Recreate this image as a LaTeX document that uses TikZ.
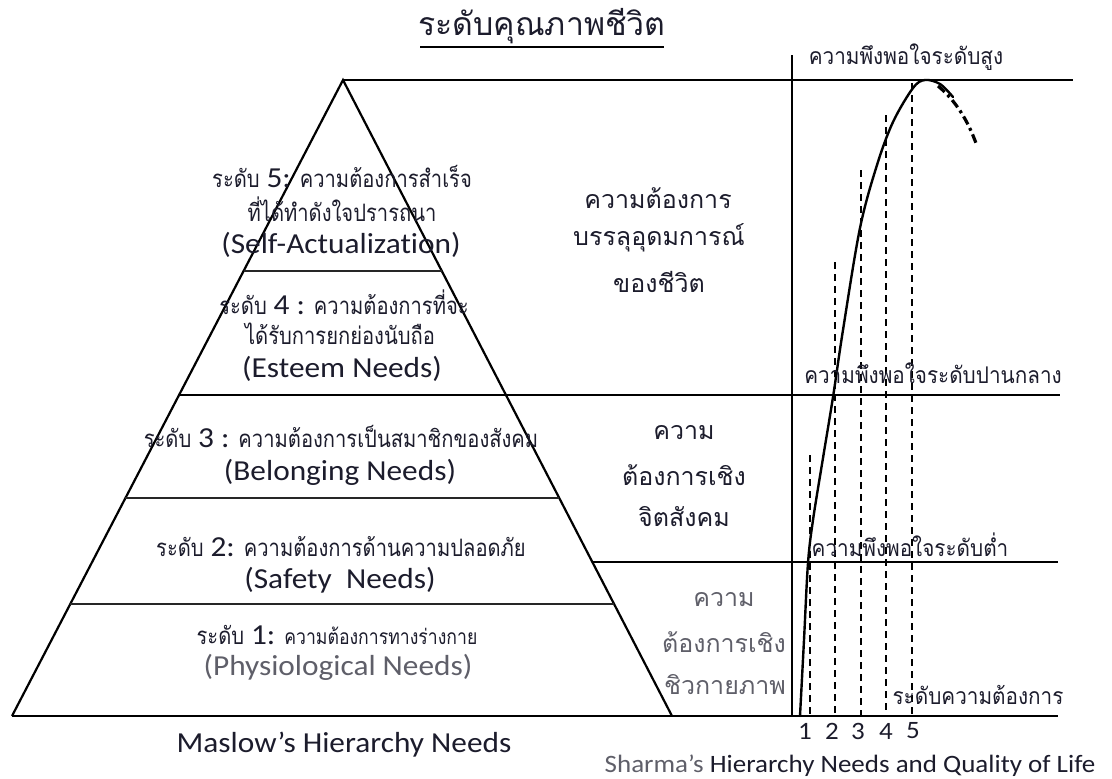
\documentclass[tikz,border=0pt]{standalone}
\usepackage{fontspec}
\newfontfamily\thai[Script=Thai]{Loma}
\newfontfamily\thaic[Script=Thai,FakeStretch=0.84]{Loma}
\newfontfamily\thair[Script=Thai,FakeStretch=0.9]{Loma}
\newfontfamily\lat[FakeStretch=1.08,Ligatures=NoCommon]{Carlito}
\definecolor{ink}{RGB}{28,28,44}
\definecolor{grayink}{RGB}{95,95,105}
\begin{document}
\begin{tikzpicture}[x=1pt,y=-1pt,
  txt/.style={inner sep=0pt,text=ink,anchor=center},
  thaiL/.style={txt,font=\thaic\fontsize{24}{26}\selectfont},
  thaiM/.style={txt,font=\thai\fontsize{25}{28}\selectfont},
  thaiS/.style={txt,font=\thair\fontsize{23}{25}\selectfont},
  latL/.style={txt,font=\lat\fontsize{29}{31}\selectfont},
  latS/.style={txt,font=\lat\fontsize{25}{27}\selectfont},
  heavy/.style={line width=2.2pt,draw=black},
  level/.style={line width=1.5pt,draw=black!85},
  dashv/.style={line width=1.2pt,draw=black,dash pattern=on 7pt off 5pt},
  curve/.style={line width=2.4pt,draw=black,line cap=round}]
\useasboundingbox (0,0) rectangle (1112,779);
% title
\node[txt,font=\thai\fontsize{32}{34}\selectfont] (title) at (542,26) {ระดับคุณภาพชีวิต};
\draw[line width=1.4pt] (420,47) -- (664,47);
% pyramid
\coordinate (apex) at (343,80);
\coordinate (bl) at (12,716);
\coordinate (br) at (672,716);
\draw[heavy,line join=miter] (bl) -- (apex) -- (br);
\draw[level] (243.6,271) -- (442,271);
\draw[level] (125,498) -- (559,498);
\draw[level] (70,604) -- (614,604);
% long horizontals
\draw[heavy] (apex) -- (1073,80);
\draw[heavy] (179,395) -- (1060,395);
\draw[heavy] (592,562) -- (1058,562);
\draw[heavy] (bl) -- (1058,716);
% vertical axis
\draw[heavy] (792,55) -- (792,716);
% dashed verticals
\draw[dashv] (810,455) -- (810,716);
\draw[dashv] (835,262) -- (835,716);
\draw[dashv] (861,170) -- (861,716);
\draw[dashv] (886,115) -- (886,716);
\draw[dashv] (912,83) -- (912,716);
% curve
\draw[curve] plot[smooth,tension=0.55] coordinates {(800,716) (804,640) (808,563) (813,520) (823,458) (833,397) (843,330) (860,228) (877,165) (893,122) (913,88) (925,80) (940,84) (953,97)};
\draw[line width=3.2pt,dash pattern=on 9pt off 4pt on 3pt off 4pt] (938,86) .. controls (955,100) and (968,120) .. (977,146);
% pyramid texts
\node[thaiL] (l5a) at (342,177) {ระดับ {\lat\fontsize{29}{31}\selectfont 5:} ความต้องการสำเร็จ};
\node[thaiL] (l5b) at (342,209) {ที่ได้ทำดังใจปรารถนา};
\node[latL] (l5c) at (341,245) {(Self-Actualization)};
\node[thaiL] (l4a) at (344,302) {ระดับ {\lat\fontsize{29}{31}\selectfont 4 :} ความต้องการที่จะ};
\node[thaiL] (l4b) at (340,334) {ได้รับการยกย่องนับถือ};
\node[latL] (l4c) at (342,369) {(Esteem Needs)};
\node[thaiL] (l3a) at (341,437) {ระดับ {\lat\fontsize{29}{31}\selectfont 3 :} ความต้องการเป็นสมาชิกของสังคม};
\node[latL] (l3b) at (340,472) {(Belonging Needs)};
\node[thaiL] (l2a) at (341,547) {ระดับ {\lat\fontsize{29}{31}\selectfont 2:} ความต้องการด้านความปลอดภัย};
\node[latL] (l2b) at (340,580) {(Safety\ \ Needs)};
\node[thaiL] (l1a) at (337,635) {ระดับ {\lat\fontsize{29}{31}\selectfont 1:} {\fontsize{21}{23}\selectfont ความต้องการทางร่างกาย}};
\node[latL,text=grayink] (l1b) at (338,667) {(Physiological Needs)};
\node[latL] (maslow) at (344,745) {Maslow’s Hierarchy Needs};
% middle column
\node[thaiM] (m1a) at (658,198) {ความต้องการ};
\node[thaiM] (m1b) at (659,238) {บรรลุอุดมการณ์};
\node[thaiM] (m1c) at (659,282) {ของชีวิต};
\node[thaiM] (m2a) at (684,433) {ความ};
\node[thaiM] (m2b) at (684,475) {ต้องการเชิง};
\node[thaiM] (m2c) at (684,517) {จิตสังคม};
\node[thaiM,text=grayink] (m3a) at (724,600) {ความ};
\node[thaiM,text=grayink] (m3b) at (724,642) {ต้องการเชิง};
\node[thaiM,text=grayink] (m3c) at (725,685) {ชิวกายภาพ};
% right labels
\node[thaiS] (s1) at (906,57) {ความพึงพอใจระดับสูง};
\node[thaiS] (s2) at (933,373) {ความพึงพอใจระดับปานกลาง};
\node[thaiS] (s3) at (910,545) {ความพึงพอใจระดับต่ำ};
\node[thaiS] (s4) at (978,695) {ระดับความต้องการ};
\node[latS] (n1) at (805,731) {1};
\node[latS] (n2) at (832,731) {2};
\node[latS] (n3) at (858,731) {3};
\node[latS] (n4) at (886,731) {4};
\node[latS] (n5) at (913,731) {5};
\node[latS] (sharma) at (850,766) {{\color{grayink}Sharma’s} Hierarchy Needs and Quality of Life};
\end{tikzpicture}
\end{document}
